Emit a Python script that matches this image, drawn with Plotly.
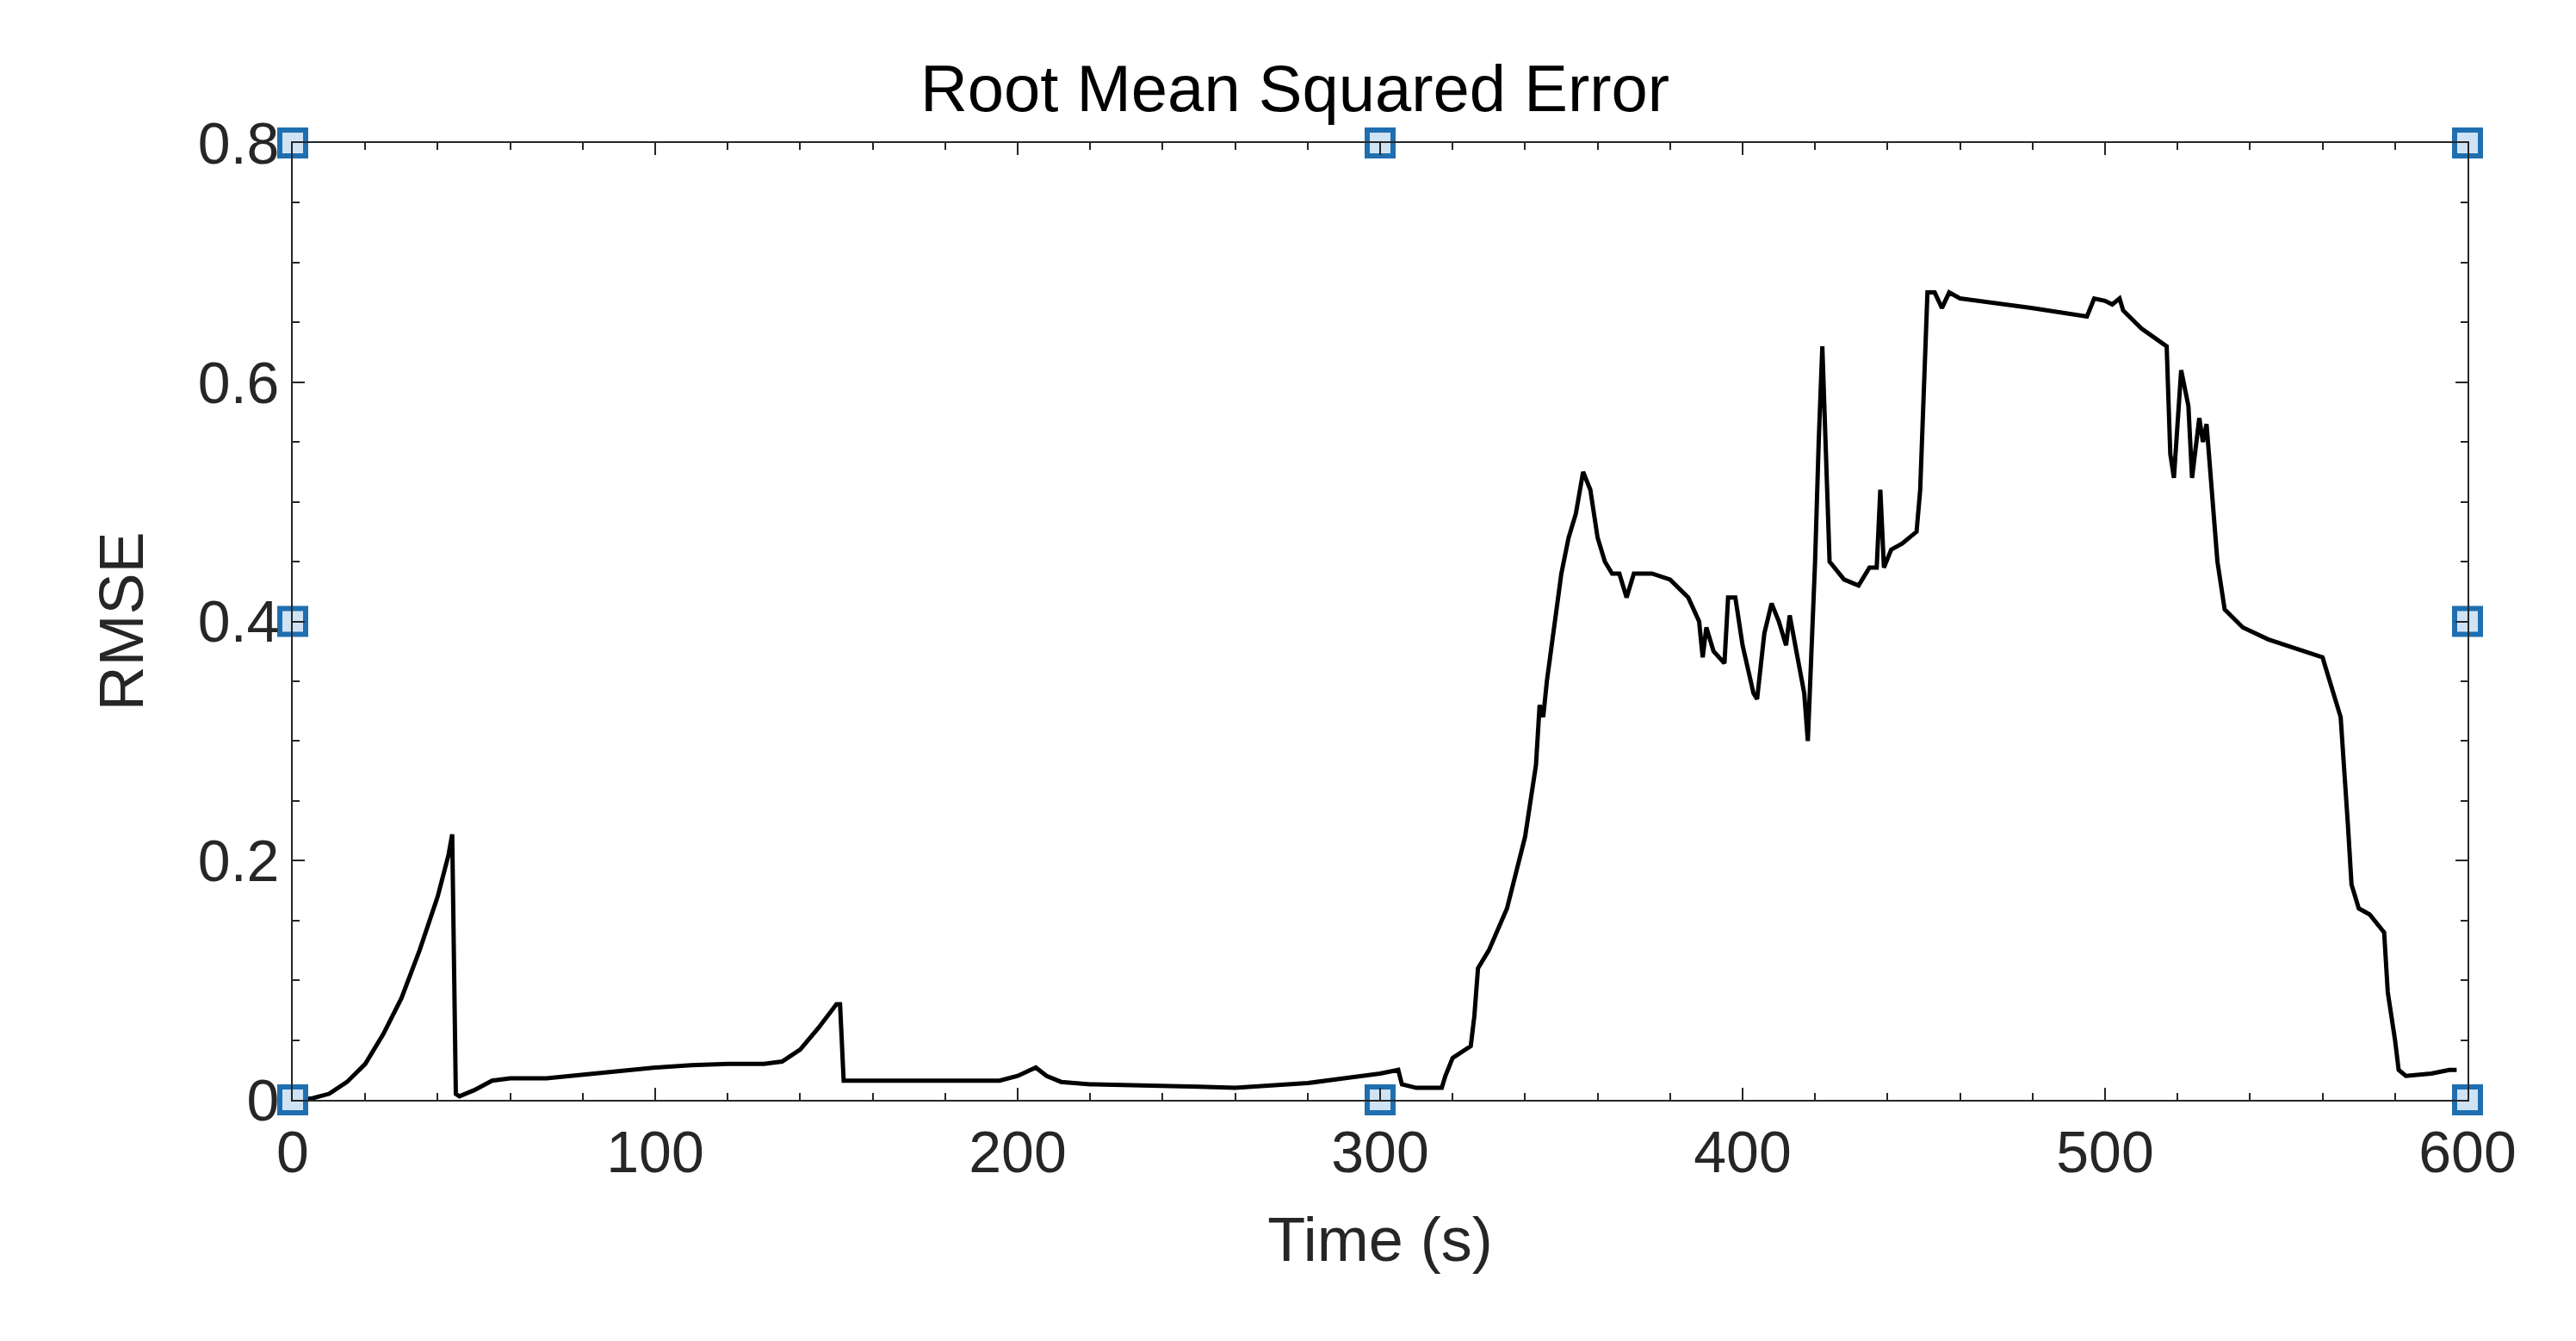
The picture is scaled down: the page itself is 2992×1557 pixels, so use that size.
import plotly.graph_objects as go

time_s = [0,5,10,15,20,25,30,35,40,43,44,45,46,50,55,60,70,80,90,100,110,120,130,135,140,145,150,151,152,160,180,195,200,205,208,212,220,240,250,260,270,280,290,300,305,306,310,317,318,320,325,326,327,330,335,340,343,344,345,346,350,352,354,356,358,360,362,364,366,368,370,375,380,385,388,389,390,392,395,396,398,400,403,404,406,408,410,412,413,415,417,418,420,421,422,424,428,432,435,437,438,439,441,444,448,449,451,453,455,457,460,480,495,497,500,502,504,505,510,517,518,519,521,523,524,526,527,528,529,531,533,538,545,555,560,562,565,567,568,570,573,577,578,580,581,583,590,595,597]
rmse = [0,0.001,0.005,0.015,0.03,0.055,0.085,0.125,0.17,0.205,0.222,0.005,0.003,0.008,0.016,0.018,0.018,0.021,0.024,0.027,0.029,0.03,0.03,0.032,0.042,0.06,0.08,0.08,0.016,0.016,0.016,0.016,0.02,0.027,0.02,0.015,0.013,0.012,0.011,0.01,0.012,0.014,0.018,0.022,0.025,0.013,0.01,0.01,0.02,0.035,0.045,0.07,0.11,0.125,0.16,0.22,0.28,0.33,0.32,0.35,0.44,0.47,0.49,0.525,0.51,0.47,0.45,0.44,0.44,0.42,0.44,0.44,0.435,0.42,0.4,0.37,0.395,0.375,0.365,0.42,0.42,0.38,0.34,0.335,0.39,0.415,0.4,0.38,0.405,0.37,0.34,0.3,0.45,0.55,0.63,0.45,0.435,0.43,0.445,0.445,0.51,0.445,0.46,0.465,0.475,0.51,0.675,0.675,0.662,0.675,0.67,0.662,0.655,0.67,0.668,0.665,0.67,0.66,0.645,0.63,0.54,0.52,0.61,0.58,0.52,0.57,0.55,0.565,0.53,0.45,0.41,0.395,0.385,0.375,0.37,0.35,0.32,0.23,0.18,0.16,0.155,0.14,0.09,0.05,0.025,0.02,0.022,0.025,0.025]
handle_x = [0,300,600,0,600,0,300,600]
handle_y = [0,0,0,0.4,0.4,0.8,0.8,0.8]

fig = go.Figure()
fig.add_trace(go.Scatter(x=time_s, y=rmse, mode="lines", line=dict(color="black", width=5)))
fig.add_trace(go.Scatter(x=handle_x, y=handle_y, mode="markers", cliponaxis=False,
    marker=dict(symbol="square", size=30, color="#cfe3f5", line=dict(color="#1f6fb0", width=6))))

ax = dict(showline=True, mirror="allticks", linecolor="#262626", linewidth=2, ticks="inside",
          ticklen=14, tickwidth=2, tickcolor="#262626", showgrid=False, zeroline=False,
          tickfont=dict(size=68, color="#262626"),
          minor=dict(ticks="inside", ticklen=8, tickwidth=2, tickcolor="#262626"))
fig.update_xaxes(**ax, range=[0, 600], dtick=100, minor_dtick=20,
                 title=dict(text="Time (s)", font=dict(size=72, color="#262626"), standoff=40))
fig.update_yaxes(**ax, range=[0, 0.8], dtick=0.2, minor_dtick=0.05, tickformat="~g",
                 title=dict(text="RMSE", font=dict(size=72, color="#262626"), standoff=40))
fig.update_layout(width=2992, height=1557, showlegend=False, plot_bgcolor="white", paper_bgcolor="white",
    font=dict(family="Liberation Sans, Arial, sans-serif"),
    title=dict(text="Root Mean Squared Error", x=0.5, xanchor="center", y=0.995, yanchor="top",
               font=dict(size=76, color="black"), pad=dict(t=60)),
    margin=dict(l=332, r=134, t=158, b=288))
fig.write_html("out.html")
